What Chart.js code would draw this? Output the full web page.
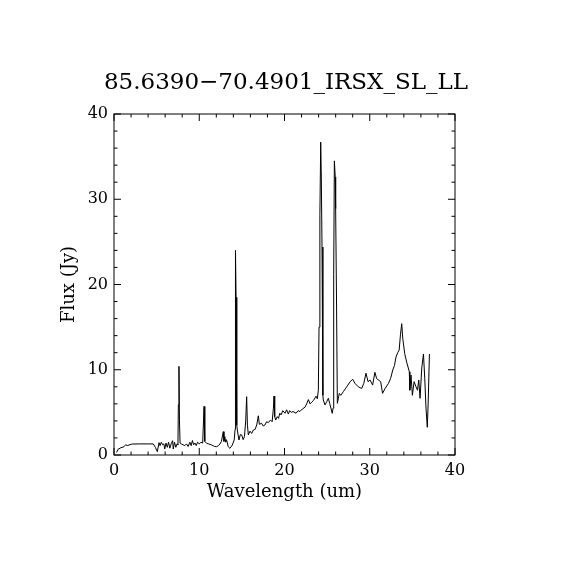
<!DOCTYPE html>
<html lang="en">
<head>
<meta charset="utf-8">
<title>85.6390-70.4901_IRSX_SL_LL</title>
<style>
  html, body { margin: 0; padding: 0; background: #ffffff; }
  #wrap { width: 570px; height: 570px; }
</style>
</head>
<body>
<div id="wrap">
  <canvas id="spectrum" width="570" height="570"></canvas>
</div>

<script src="https://cdn.jsdelivr.net/npm/chart.js"></script>
<script>

// values
const plotTitle = "85.6390\u221270.4901_IRSX_SL_LL";
const xLabel = "Wavelength (um)";
const yLabel = "Flux (Jy)";

const xTicks = [0, 10, 20, 30, 40];
const yTicks = [0, 10, 20, 30, 40];

const wavelength = [
  0.3, 0.47, 0.8, 1.17, 1.37, 1.55, 1.76, 2.0, 2.15, 3.0, 4.0, 4.6, 4.85, 5.08, 5.28,
  5.4, 5.55, 5.7, 5.85, 5.95, 6.1, 6.25, 6.4, 6.55, 6.7, 6.88, 6.95, 7.1, 7.25, 7.4,
  7.5, 7.55, 7.62, 7.68, 7.75, 7.9, 8.1, 8.3, 8.5, 8.7, 8.9, 9.05, 9.2, 9.35, 9.5,
  9.65, 9.8, 10.0, 10.2, 10.4, 10.5, 10.56, 10.65, 10.87, 11.1, 11.46, 11.8, 12.04, 12.25, 12.43,
  12.6, 12.82, 12.9, 13.0, 13.1, 13.2, 13.4, 13.6, 13.88, 14.1, 14.2, 14.25, 14.32, 14.4, 14.5,
  14.66, 14.82, 14.98, 15.15, 15.3, 15.45, 15.56, 15.65, 15.76, 15.95, 16.15, 16.35, 16.55, 16.74, 16.93,
  17.05, 17.32, 17.5, 17.7, 17.9, 18.1, 18.35, 18.55, 18.7, 18.77, 18.85, 18.97, 19.15, 19.3, 19.45,
  19.6, 19.8, 20.06, 20.25, 20.45, 20.6, 20.8, 21.0, 21.35, 21.6, 21.8, 22.1, 22.4, 22.6, 22.8,
  23.0, 23.2, 23.4, 23.7, 23.85, 23.97, 24.05, 24.15, 24.25, 24.32, 24.4, 24.5, 24.55, 24.75, 24.95,
  25.14, 25.3, 25.6, 25.7, 25.77, 25.85, 25.95, 26.0, 26.1, 26.2, 26.43, 26.6, 26.9, 27.3, 27.7,
  28.0, 28.27, 28.66, 29.05, 29.3, 29.56, 29.8, 30.03, 30.34, 30.6, 30.8, 31.0, 31.28, 31.5, 31.8,
  32.2, 32.45, 32.7, 32.9, 33.08, 33.28, 33.45, 33.6, 33.75, 33.87, 34.1, 34.33, 34.64, 34.7, 34.84,
  35.0, 35.2, 35.43, 35.6, 35.75, 35.9, 36.1, 36.3, 36.45, 36.6, 36.75, 36.85, 37.0
];

const flux = [
  0.3, 0.67, 0.85, 0.97, 1.21, 1.1, 1.17, 1.25, 1.29, 1.3, 1.3, 1.3, 0.9, 0.39, 1.45,
  1.1, 1.5, 1.2, 1.3, 0.7, 1.4, 0.9, 1.5, 0.8, 1.3, 1.68, 0.7, 1.5, 0.9, 1.3,
  1.2, 5.9, 10.4, 4.0, 1.4, 1.3, 1.2, 1.1, 1.3, 1.0, 1.5, 1.1, 1.7, 1.2, 1.4,
  1.1, 1.5, 1.3, 1.5, 1.4, 4.0, 5.7, 1.6, 1.37, 1.3, 1.17, 1.0, 0.98, 1.1, 1.29,
  1.6, 2.74, 1.6, 2.15, 1.5, 1.8, 0.97, 0.78, 1.17, 1.76, 3.0, 24.0, 18.5, 3.5, 2.7,
  1.76, 2.4, 2.35, 1.8, 2.15, 4.0, 6.84, 3.5, 2.35, 2.8, 2.54, 2.93, 3.0, 3.52, 4.6,
  3.6, 3.72, 3.4, 3.52, 3.9, 3.8, 4.1, 3.9, 5.5, 6.92, 4.5, 4.1, 4.5, 4.3, 4.9,
  4.7, 5.2, 4.9, 5.3, 4.8, 5.2, 5.0, 5.1, 4.9, 5.2, 5.1, 5.4, 5.6, 6.0, 6.5,
  6.0, 6.2, 6.4, 6.9, 6.6, 7.6, 15.0, 28.2, 36.7, 32.6, 24.4, 7.0, 6.45, 5.87, 6.25,
  6.65, 6.06, 4.89, 5.5, 21.2, 34.5, 32.6, 28.9, 18.3, 6.06, 7.23, 7.0, 7.43, 8.0, 8.6,
  8.88, 8.4, 8.0, 7.8, 8.4, 9.6, 8.6, 8.8, 8.2, 9.7, 9.0, 8.8, 8.6, 7.23, 7.8,
  8.4, 9.0, 9.97, 10.5, 11.5, 12.0, 12.3, 14.1, 15.4, 13.7, 11.9, 10.9, 9.77, 7.6, 9.38,
  7.0, 8.6, 8.0, 7.6, 8.8, 6.65, 10.2, 11.85, 9.0, 5.5, 3.25, 6.0, 11.85
];

const serif = "'DejaVu Serif', 'Liberation Serif', serif";

// frame + inward ticks on all four sides, and the title
const framePlugin = {
    id: "frame",
    afterDraw(chart) {
        const ctx = chart.ctx;
        const area = chart.chartArea;
        const xs = chart.scales.x;
        const ys = chart.scales.y;

        ctx.save();
        ctx.strokeStyle = "#000000";
        ctx.lineWidth = 1;
        ctx.strokeRect(area.left, area.top, area.right - area.left, area.bottom - area.top);

        ctx.beginPath();
        for (let v = 0; v <= 40; v += 2) {
            const len = (v % 10 === 0) ? 7 : 3.5;
            const px = xs.getPixelForValue(v);
            ctx.moveTo(px, area.bottom);
            ctx.lineTo(px, area.bottom - len);
            ctx.moveTo(px, area.top);
            ctx.lineTo(px, area.top + len);
            const py = ys.getPixelForValue(v);
            ctx.moveTo(area.left, py);
            ctx.lineTo(area.left + len, py);
            ctx.moveTo(area.right, py);
            ctx.lineTo(area.right - len, py);
        }
        ctx.stroke();

        ctx.fillStyle = "#000000";
        ctx.font = "23px " + serif;
        ctx.textAlign = "center";
        ctx.textBaseline = "middle";
        ctx.fillText(plotTitle, chart.width / 2 + 1, 83);
        ctx.restore();
    }
};

const points = wavelength.map(function (w, i) {
    return { x: w, y: flux[i] };
});

new Chart(document.getElementById("spectrum"), {
    type: "line",
    data: {
        datasets: [{
            data: points,
            borderColor: "#000000",
            borderWidth: 1,
            pointRadius: 0,
            tension: 0,
            fill: false
        }]
    },
    options: {
        responsive: false,
        animation: false,
        layout: {
            padding: { top: 114, right: 115, bottom: 0, left: 0 }
        },
        plugins: {
            legend: { display: false },
            title: { display: false },
            tooltip: { enabled: false }
        },
        scales: {
            x: {
                type: "linear",
                min: 0,
                max: 40,
                afterFit: function (scale) { scale.height = 115; },
                afterBuildTicks: function (scale) {
                    scale.ticks = xTicks.map(function (v) { return { value: v }; });
                },
                grid: { display: false, drawTicks: false },
                border: { display: false },
                ticks: {
                    color: "#000000",
                    padding: 6,
                    maxRotation: 0,
                    font: { family: serif, size: 16 }
                },
                title: {
                    display: true,
                    text: xLabel,
                    color: "#000000",
                    padding: { top: 0, bottom: 67 },
                    font: { family: serif, size: 18 }
                }
            },
            y: {
                type: "linear",
                min: 0,
                max: 40,
                afterFit: function (scale) { scale.width = 114; },
                afterBuildTicks: function (scale) {
                    scale.ticks = yTicks.map(function (v) { return { value: v }; });
                },
                grid: { display: false, drawTicks: false },
                border: { display: false },
                ticks: {
                    color: "#000000",
                    padding: 6,
                    font: { family: serif, size: 16 }
                },
                title: {
                    display: true,
                    text: yLabel,
                    color: "#000000",
                    padding: { top: 59, bottom: 0 },
                    font: { family: serif, size: 18 }
                }
            }
        }
    },
    plugins: [framePlugin]
});

</script>
</body>
</html>
